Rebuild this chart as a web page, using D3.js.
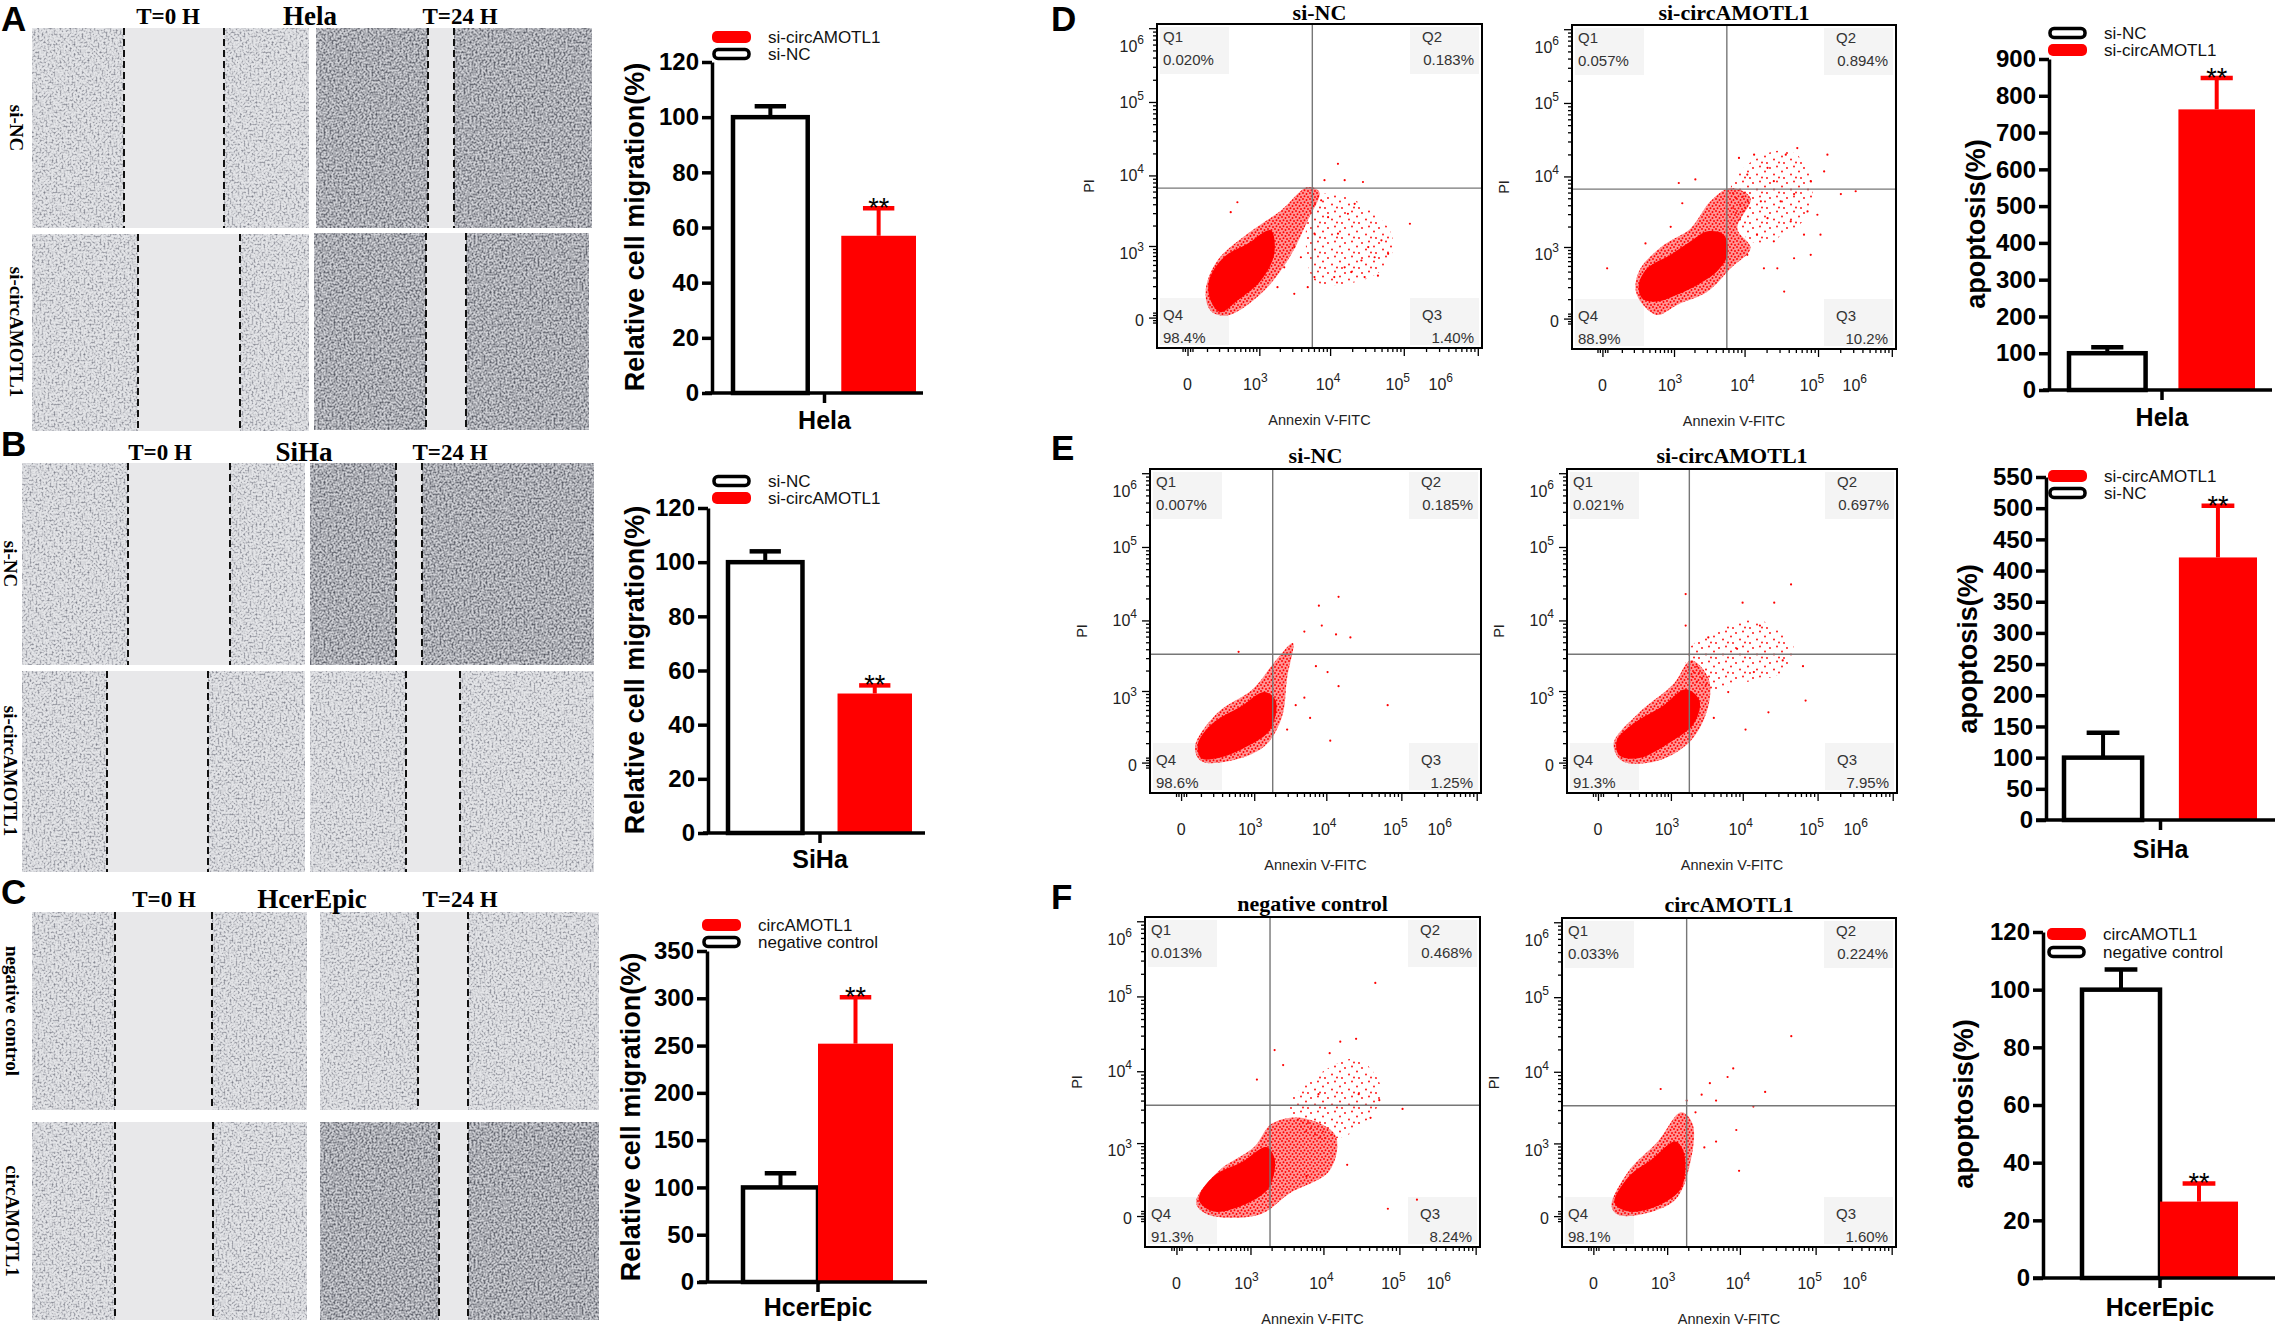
<!DOCTYPE html>
<html>
<head>
<meta charset="utf-8">
<script src="https://cdn.jsdelivr.net/npm/d3@7"></script>
<style>
  body { margin: 0; background: #fff; }
  svg { display: block; font-family: "Liberation Sans", Arial, sans-serif; }
</style>
</head>
<body>
<svg id="fig" width="2280" height="1326"></svg>
<script>
// ---------- bar chart values (A-C migration, D-F apoptosis) ----------
const cellLines = ["Hela", "SiHa", "HcerEpic"];
const groupNames = [["si-NC", "si-circAMOTL1"], ["si-NC", "si-circAMOTL1"], ["negative control", "circAMOTL1"]];
const migrationControl = [100, 100, 100];
const migrationControlSd = [4, 4, 15];
const migrationCirc = [57, 51.5, 252];
const migrationCircSd = [10, 3, 49];
const apoptosisControl = [100, 100, 100];
const apoptosisControlSd = [16, 40, 7];
const apoptosisCirc = [763, 421, 26.5];
const apoptosisCircSd = [85, 83, 6.3];
const migrationTicks = [[0, 20, 40, 60, 80, 100, 120], [0, 20, 40, 60, 80, 100, 120],
                        [0, 50, 100, 150, 200, 250, 300, 350]];
const apoptosisTicks = [[0, 100, 200, 300, 400, 500, 600, 700, 800, 900],
                        [0, 50, 100, 150, 200, 250, 300, 350, 400, 450, 500, 550],
                        [0, 20, 40, 60, 80, 100, 120]];

// ---------- flow cytometry (Annexin V-FITC, PI) ----------
const flowTitles = ["si-NC", "si-circAMOTL1", "si-NC", "si-circAMOTL1", "negative control", "circAMOTL1"];
// Q1, Q2, Q3, Q4
const flowQuadrants = [["0.020%", "0.183%", "1.40%", "98.4%"], ["0.057%", "0.894%", "10.2%", "88.9%"],
                       ["0.007%", "0.185%", "1.25%", "98.6%"], ["0.021%", "0.697%", "7.95%", "91.3%"],
                       ["0.013%", "0.468%", "8.24%", "91.3%"], ["0.033%", "0.224%", "1.60%", "98.1%"]];
const flowGateX = [5700, 5700, 1850, 1850, 1900, 1900];
const flowGateY = [6700, 6700, 3400, 3400, 3450, 3450];
const flowMajors = [0, 1e3, 1e4, 1e5, 1e6];

// outlines of the dense core, the looser halo and the sparse cloud, plus single events
const d1Core = [[126, 84], [114, 262], [252, 668], [655, 1077], [1478, 1705], [1663, 758], [1056, 262], [446, 84], [216, 22]];
const d1Halo = [[91, 159], [184, 592], [655, 1525], [2080, 3280], [4930, 6910], [7120, 5910], [4930, 2370], [2580, 592], [1056, 132], [295, 8], [126, 29]];
const d1Sparse = [[6100, 5020], [21600, 4530], [67800, 1525], [61400, 530], [26700, 262], [6100, 262]];
const d1Dots = [[7550, 4530], [9380, 2630], [12800, 1525], [17500, 2940], [21600, 4050], [26700, 592], [33000, 962], [40300, 668],
                [49800, 1215], [61400, 758], [15800, 456], [11400, 305], [19400, 377], [29500, 305], [44700, 324], [6100, 305],
                [8380, 8600], [12800, 14400], [15800, 8600], [28000, 8130], [121000, 2120], [446, 4260], [340, 3100], [4930, 190],
                [3200, 132], [3960, 668], [6100, 1525], [3200, 962], [1850, 190], [2310, 456]];

const d2Core = [[252, 223], [367, 456], [890, 758], [1760, 1215], [3080, 1705], [5180, 1525], [5800, 758], [4180, 405], [2200, 223], [1110, 132], [540, 84], [295, 105]];
const d2Halo = [[216, 190], [274, 456], [700, 1077], [1760, 1880], [3370, 4530], [6430, 6910], [12100, 5020], [7950, 1880], [12100, 962], [6430, 456], [3080, 159], [1110, 64], [540, 14], [274, 84]];
const d2Sparse = [[6430, 6910], [14800, 17900], [42600, 22100], [79600, 10600], [72000, 2940], [34700, 1525], [12100, 1215]];
const d2Dots = [[8380, 17900], [13500, 19800], [20600, 13100], [36500, 19800], [52300, 24400], [134000, 19800], [10900, 10600],
                [25100, 8600], [79600, 8600], [121000, 11700], [16700, 4530], [31000, 4530], [47300, 5720], [72000, 3280],
                [20600, 2630], [42600, 2370], [98000, 2940], [108000, 1525], [64500, 1525], [79600, 758], [47300, 668],
                [25100, 1215], [14800, 1525], [28000, 456], [34700, 159], [18400, 456], [204000, 5720], [324000, 6250],
                [19, 456], [1180, 8130], [2060, 9100], [1330, 4260], [890, 1980], [340, 1130], [10900, 758]];

const e1Core = [[81, 97], [193, 286], [635, 575], [1400, 962], [2040, 710], [1705, 216], [777, 78], [252, 18], [101, 18]];
const e1Halo = [[64, 78], [252, 456], [950, 1065], [2040, 2790], [3530, 4890], [2940, 1570], [2470, 363], [1400, 78], [410, 6], [101, 6]];
const e1Sparse = [];
const e1Dots = [[5060, 7030], [7950, 15900], [14600, 21000], [8700, 8500], [13500, 6430], [21000, 5840], [7250, 2310], [10400, 1900],
                [14600, 1180], [5060, 790], [11300, 118], [65800, 600], [3855, 600], [2940, 216], [6050, 363], [575, 3680]];

const e2Core = [[93, 118], [237, 286], [740, 575], [1640, 1065], [2570, 710], [2150, 286], [910, 97], [308, 18], [112, 30]];
const e2Halo = [[74, 97], [308, 456], [1110, 1300], [1940, 2790], [3400, 1570], [3400, 575], [1940, 118], [606, 6], [132, 6]];
const e2Sparse = [[1640, 3350], [5800, 8500], [17000, 10100], [48900, 4050], [34300, 1900], [8380, 1300], [2820, 1065]];
const e2Dots = [[9950, 17500], [26400, 17500], [44300, 31000], [17000, 8500], [34300, 2790], [63900, 2310], [69200, 710], [22100, 456],
                [10900, 216], [4050, 363], [1640, 8500], [3400, 5840], [8380, 4050], [14100, 1900], [6360, 962], [1640, 22900]];

const f1Core = [[116, 78], [248, 286], [758, 512], [1680, 870], [2200, 575], [1820, 162], [758, 45], [248, 18]];
const f1Halo = [[97, 61], [316, 363], [1130, 870], [2000, 1900], [4980, 2310], [14400, 1300], [12100, 363], [3460, 118], [1370, 6], [187, 6]];
const f1Sparse = [[3460, 3350], [10100, 10100], [29200, 14500], [59600, 4890], [20600, 1300], [5950, 1300]];
const f1Dots = [[48300, 151000], [27000, 27200], [16700, 24900], [12100, 17500], [2880, 12100], [2200, 19200], [1240, 7730],
                [110000, 3070], [70600, 30], [170000, 78], [29200, 4890], [41800, 2310], [8600, 4890], [20600, 456], [5950, 286], [54500, 4050]];

const f2Core = [[108, 61], [232, 286], [592, 575], [1310, 1065], [1750, 710], [1590, 162], [725, 45], [232, 18]];
const f2Halo = [[88, 45], [232, 363], [725, 1065], [1590, 2790], [2310, 1900], [2100, 456], [1310, 78], [385, 6], [128, 6]];
const f2Sparse = [];
const f2Dots = [[47800, 30100], [8150, 11100], [6850, 8500], [3960, 7000], [4800, 4050], [3060, 4890], [21600, 5330], [15100, 3350],
                [9750, 363], [8950, 1570], [800, 5840], [3330, 870], [4800, 1065], [1900, 4050], [2520, 2790]];

const RED = "#ff0000";
const SANS = '"Liberation Sans", Arial, sans-serif';
const SERIF = '"Liberation Serif", "Times New Roman", serif';

const svg = d3.select("#fig");
const defs = svg.append("defs");

function make_defs() {
    let halo = defs.append("pattern").attr("id", "haloDots")
        .attr("patternUnits", "userSpaceOnUse").attr("width", 7).attr("height", 6);
    halo.append("rect").attr("width", 7).attr("height", 6).attr("fill", "rgba(255,0,0,0.42)");
    [[1, 1], [4.5, 2], [2.5, 4.2], [6, 5]].forEach(p => halo.append("circle")
        .attr("cx", p[0]).attr("cy", p[1]).attr("r", 0.95).attr("fill", RED));

    let sparse = defs.append("pattern").attr("id", "sparseDots")
        .attr("patternUnits", "userSpaceOnUse").attr("width", 17).attr("height", 15);
    [[2, 3], [9, 1.5], [6, 9.5], [14, 6.5], [11, 12.5], [16, 13]].forEach(p => sparse.append("circle")
        .attr("cx", p[0]).attr("cy", p[1]).attr("r", 0.9).attr("fill", RED));

    // grainy texture standing in for the phase-contrast photos
    const tones = {
        light: "0 0 0 0 0.40  0 0 0 0 0.41  0 0 0 0 0.46  2.1 0 0 0 -0.95",
        dark: "0 0 0 0 0.33  0 0 0 0 0.34  0 0 0 0 0.38  2.4 0 0 0 -0.9"
    };
    for (const [tone, matrix] of Object.entries(tones)) {
        let f = defs.append("filter").attr("id", "cells-" + tone)
            .attr("x", 0).attr("y", 0).attr("width", 1).attr("height", 1)
            .attr("color-interpolation-filters", "sRGB");
        f.append("feTurbulence").attr("type", "fractalNoise").attr("baseFrequency", 0.5)
            .attr("numOctaves", 2).attr("seed", tone == "dark" ? 9 : 4).attr("result", "noise");
        f.append("feColorMatrix").attr("in", "noise").attr("type", "matrix")
            .attr("values", matrix).attr("result", "specks");
        f.append("feComposite").attr("in", "specks").attr("in2", "SourceGraphic")
            .attr("operator", "over").attr("result", "mix");
        f.append("feComposite").attr("in", "mix").attr("in2", "SourceGraphic").attr("operator", "in");
    }
}

function panel_letter(letter, x, y) {
    svg.append("text").attr("x", x).attr("y", y).text(letter)
        .attr("font-family", SANS).attr("font-weight", "bold").attr("font-size", 35);
}

// ---------- wound healing panels ----------
function scratch_panel(s, i) {
    for (const [x0, x1, y0, y1, c0, c1, tone] of s.imgs) {
        svg.append("rect").attr("x", x0).attr("y", y0)
            .attr("width", x1 - x0).attr("height", y1 - y0)
            .attr("fill", tone == "dark" ? "#cfd0d5" : "#e3e4e7")
            .attr("filter", `url(#cells-${tone})`);
        svg.append("rect").attr("x", c0).attr("y", y0)
            .attr("width", c1 - c0).attr("height", y1 - y0)
            .attr("fill", "#e8e8ea");
        for (const cx of [c0, c1]) {
            svg.append("line").attr("x1", cx).attr("x2", cx).attr("y1", y0).attr("y2", y1)
                .attr("stroke", "#111").attr("stroke-width", 2).attr("stroke-dasharray", "7,4");
        }
    }
    const heads = ["T=0 H", cellLines[i], "T=24 H"];
    heads.forEach((h, j) => svg.append("text")
        .attr("x", s.heads[j]).attr("y", s.headY + (j == 1 ? 1 : 0))
        .attr("text-anchor", "middle").attr("font-family", SERIF).attr("font-weight", "bold")
        .attr("font-size", j == 1 ? 27 : 23).text(h));
    groupNames[i].forEach((n, j) => svg.append("text")
        .attr("transform", `translate(${s.rowX},${s.rowY[j]}) rotate(90)`)
        .attr("text-anchor", "middle").attr("dominant-baseline", "central")
        .attr("font-family", SERIF).attr("font-weight", "bold").attr("font-size", 19).text(n));
    panel_letter(s.letter, 1, s.letterY);
}

// ---------- bar charts ----------
function bar_chart(c, i, values, sds, ticks, ylabel) {
    const y = d3.scaleLinear().domain([0, d3.max(ticks)]).range([c.y0, c.y1]);
    const x = d3.scaleBand().domain(groupNames[i]).range(c.bands)
        .paddingInner(c.inner).paddingOuter(0);
    const g = svg.append("g");

    groupNames[i].forEach((name, k) => {
        const v = values[k][i], e = sds[k][i];
        const col = k == 0 ? "#000" : RED;
        const bx = x(name), bw = x.bandwidth(), cx = bx + bw / 2;
        g.append("line").attr("x1", cx).attr("x2", cx)
            .attr("y1", y(v)).attr("y2", y(v + e))
            .attr("stroke", col).attr("stroke-width", 4);
        g.append("line").attr("x1", cx - bw * 0.21).attr("x2", cx + bw * 0.21)
            .attr("y1", y(v + e)).attr("y2", y(v + e))
            .attr("stroke", col).attr("stroke-width", 4.5);
        if (k == 0) {
            g.append("rect").attr("x", bx).attr("y", y(v))
                .attr("width", bw).attr("height", y(0) - y(v))
                .attr("fill", "#fff").attr("stroke", "#000").attr("stroke-width", 4.5);
        } else {
            g.append("rect").attr("x", bx).attr("y", y(v))
                .attr("width", bw).attr("height", y(0) - y(v)).attr("fill", RED);
            g.append("text").attr("x", cx).attr("y", y(v + e) + 9)
                .attr("text-anchor", "middle").attr("font-size", 27).text("**");
        }
    });

    let yAxis = g.append("g").attr("transform", `translate(${c.ax},0)`)
        .call(d3.axisLeft(y).tickValues(ticks).tickSize(10).tickSizeOuter(0).tickPadding(3));
    yAxis.attr("font-family", SANS).attr("font-size", 24).attr("font-weight", "bold");
    yAxis.select(".domain").attr("stroke-width", 3.5);
    yAxis.selectAll(".tick line").attr("stroke-width", 3.5);
    yAxis.selectAll(".tick text").attr("fill", "#000");

    g.append("line").attr("x1", c.xStart).attr("x2", c.xEnd)
        .attr("y1", c.y0).attr("y2", c.y0).attr("stroke", "#000").attr("stroke-width", 3.5);
    const cat = d3.scaleBand().domain([cellLines[i]]).range(c.bands);
    let xAxis = g.append("g").attr("transform", `translate(0,${c.y0})`)
        .call(d3.axisBottom(cat).tickSize(10).tickSizeOuter(0).tickPadding(c.catPad));
    xAxis.select(".domain").remove();
    xAxis.attr("font-family", SANS).attr("font-size", 25).attr("font-weight", "bold");
    xAxis.selectAll(".tick line").attr("stroke-width", 3.5);
    xAxis.selectAll(".tick text").attr("fill", "#000");

    g.append("text").attr("transform", `translate(${c.labX},${c.labY}) rotate(-90)`)
        .attr("text-anchor", "middle").attr("font-weight", "bold").attr("font-size", 27).text(ylabel);

    c.legOrder.forEach((k, j) => {
        const ly = c.legY[j];
        if (k == 0) {
            g.append("rect").attr("x", c.legX + 2).attr("y", ly - 4.5).attr("width", 35).attr("height", 9)
                .attr("rx", 4).attr("fill", "#fff").attr("stroke", "#000").attr("stroke-width", 3.5);
        } else {
            g.append("rect").attr("x", c.legX).attr("y", ly - 6).attr("width", 39).attr("height", 12)
                .attr("rx", 5).attr("fill", RED);
        }
        g.append("text").attr("x", c.legX + 56).attr("y", ly).attr("dominant-baseline", "central")
            .attr("font-size", 17).attr("fill", "#111").text(groupNames[i][k]);
    });
}

// ---------- flow cytometry dot plots ----------
function sup_label(sel, v) {
    if (v == 0) { sel.text("0"); return; }
    sel.append("tspan").text("10");
    sel.append("tspan").attr("dy", -8).attr("font-size", 12).text(Math.round(Math.log10(v)));
}

function flow_plot(p, k) {
    const [l, t, r, b] = p.frame;
    const x = d3.scaleSymlog().constant(120).domain([-190, 1.14e6]).range([l, r]);
    const y = d3.scaleSymlog().constant(120).domain([-190, 1.14e6]).range([b, t]);
    svg.append("clipPath").attr("id", "fc" + k).append("rect")
        .attr("x", l).attr("y", t).attr("width", r - l).attr("height", b - t);
    const g = svg.append("g").attr("clip-path", `url(#fc${k})`);

    const boxes = [[l + 3, t + 3], [r - 72, t + 3], [r - 72, b - 50], [l + 3, b - 50]];
    g.selectAll(".qbox").data(boxes).enter().append("rect")
        .attr("x", d => d[0]).attr("y", d => d[1]).attr("width", 69).attr("height", 47)
        .attr("fill", "#f4f4f4");

    const blob = d3.line().x(d => x(d[0])).y(d => y(d[1]))
        .curve(d3.curveCatmullRomClosed.alpha(0.5));
    if (p.sparse.length) g.append("path").attr("d", blob(p.sparse)).attr("fill", "url(#sparseDots)");
    g.append("path").attr("d", blob(p.halo)).attr("fill", "url(#haloDots)");
    g.append("path").attr("d", blob(p.core)).attr("fill", RED);
    g.selectAll(".ev").data(p.dots).enter().append("circle")
        .attr("cx", d => x(d[0])).attr("cy", d => y(d[1])).attr("r", 1.1).attr("fill", RED);

    g.append("line").attr("x1", x(p.gx)).attr("x2", x(p.gx)).attr("y1", t).attr("y2", b)
        .attr("stroke", "#777").attr("stroke-width", 1.4);
    g.append("line").attr("x1", l).attr("x2", r).attr("y1", y(p.gy)).attr("y2", y(p.gy))
        .attr("stroke", "#777").attr("stroke-width", 1.4);

    const qpos = [[l + 6, t + 18], [r - 8, t + 18], [r - 8, b - 28], [l + 6, b - 28]];
    p.quads.forEach((q, j) => {
        const [qx, qy] = qpos[j];
        const right = (j == 1 || j == 2);
        g.append("text").attr("x", right ? qx - 52 : qx).attr("y", qy)
            .attr("font-size", 15).attr("fill", "#333").text("Q" + (j + 1));
        g.append("text").attr("x", qx).attr("y", qy + 23).attr("text-anchor", right ? "end" : "start")
            .attr("font-size", 15).attr("fill", "#333").text(q);
    });

    svg.append("rect").attr("x", l).attr("y", t).attr("width", r - l).attr("height", b - t)
        .attr("fill", "none").attr("stroke", "#000").attr("stroke-width", 2);

    const minors = [-20, -10, 10, 20].concat(
        d3.range(100, 1000, 100), d3.range(2e3, 1e4, 1e3), d3.range(2e4, 1e5, 1e4), d3.range(2e5, 1e6, 1e5));
    [[minors, 4], [flowMajors, 8]].forEach(([vals, len]) => {
        svg.append("g").attr("transform", `translate(0,${b})`)
            .call(d3.axisBottom(x).tickValues(vals).tickSize(len).tickSizeOuter(0).tickFormat(""))
            .call(a => a.select(".domain").remove())
            .selectAll("line").attr("stroke-width", 1.3);
        svg.append("g").attr("transform", `translate(${l},0)`)
            .call(d3.axisLeft(y).tickValues(vals).tickSize(len).tickSizeOuter(0).tickFormat(""))
            .call(a => a.select(".domain").remove())
            .selectAll("line").attr("stroke-width", 1.3);
    });

    const xNudge = [0, -4, -2, -6, -37], yNudge = [2, 7, 0, 0, 18];
    flowMajors.forEach((v, j) => {
        svg.append("text").attr("x", x(v) + xNudge[j]).attr("y", b + 42)
            .attr("text-anchor", "middle").attr("font-size", 16).attr("fill", "#222")
            .call(sup_label, v);
        svg.append("text").attr("x", l - 13).attr("y", y(v) + yNudge[j] + 6)
            .attr("text-anchor", "end").attr("font-size", 16).attr("fill", "#222")
            .call(sup_label, v);
    });

    svg.append("text").attr("transform", `translate(${l - 63},${(t + b) / 2}) rotate(-90)`)
        .attr("text-anchor", "middle").attr("font-size", 14.5).attr("fill", "#222").text("PI");
    svg.append("text").attr("x", (l + r) / 2).attr("y", b + 77)
        .attr("text-anchor", "middle").attr("font-size", 14.5).attr("fill", "#222").text("Annexin V-FITC");
    svg.append("text").attr("x", (l + r) / 2).attr("y", Math.max(t - 6, 20))
        .attr("text-anchor", "middle").attr("font-family", SERIF).attr("font-weight", "bold")
        .attr("font-size", 22).text(p.title);
}

// ---------- layout ----------
const scratchLayouts = [
    {letter: "A", letterY: 31, headY: 24, heads: [168, 310, 460], rowX: 16, rowY: [128, 332],
     imgs: [[32, 309, 28, 228, 124, 224, "light"], [316, 592, 28, 228, 428, 454, "dark"],
            [32, 309, 234, 431, 138, 240, "light"], [314, 589, 233, 430, 426, 466, "dark"]]},
    {letter: "B", letterY: 456, headY: 460, heads: [160, 304, 450], rowX: 10, rowY: [564, 771],
     imgs: [[22, 305, 463, 665, 128, 230, "light"], [310, 594, 463, 665, 396, 422, "dark"],
            [22, 305, 671, 872, 107, 208, "light"], [310, 594, 671, 872, 406, 460, "light"]]},
    {letter: "C", letterY: 904, headY: 907, heads: [164, 312, 460], rowX: 12, rowY: [1011, 1221],
     imgs: [[32, 307, 912, 1110, 115, 212, "light"], [320, 599, 912, 1110, 418, 468, "light"],
            [32, 307, 1122, 1320, 115, 213, "light"], [320, 599, 1122, 1320, 439, 468, "dark"]]}
];

const migrationLayouts = [
    {ax: 712, y0: 393, y1: 62, xStart: 705, xEnd: 923, bands: [733, 916], inner: 0.31, labX: 644, labY: 227,
     catPad: 8, legX: 712, legY: [37, 54], legOrder: [1, 0]},
    {ax: 708, y0: 833, y1: 508, xStart: 703, xEnd: 925, bands: [728, 912], inner: 0.32, labX: 644, labY: 670,
     catPad: 7, legX: 712, legY: [481, 498], legOrder: [0, 1]},
    {ax: 707, y0: 1282, y1: 951, xStart: 699, xEnd: 927, bands: [743, 893], inner: 0, labX: 640, labY: 1117,
     catPad: 6, legX: 702, legY: [925, 942], legOrder: [1, 0]}
];
const apoptosisLayouts = [
    {ax: 2049, y0: 390, y1: 59, xStart: 2043, xEnd: 2272, bands: [2069, 2255], inner: 0.30, labX: 1985, labY: 224,
     catPad: 8, legX: 2048, legY: [33, 50], legOrder: [0, 1]},
    {ax: 2046, y0: 820, y1: 477, xStart: 2036, xEnd: 2275, bands: [2064, 2257], inner: 0.32, labX: 1977, labY: 649,
     catPad: 10, legX: 2048, legY: [476, 493], legOrder: [1, 0]},
    {ax: 2043, y0: 1278, y1: 932, xStart: 2033, xEnd: 2275, bands: [2082, 2238], inner: 0, labX: 1973, labY: 1104,
     catPad: 10, legX: 2047, legY: [934, 952], legOrder: [1, 0]}
];

const flowFrames = [[1157, 24, 1482, 348], [1572, 25, 1896, 349], [1150, 469, 1481, 793],
                    [1567, 469, 1897, 793], [1145, 917, 1480, 1247], [1562, 918, 1896, 1247]];
const flowCores = [d1Core, d2Core, e1Core, e2Core, f1Core, f2Core];
const flowHalos = [d1Halo, d2Halo, e1Halo, e2Halo, f1Halo, f2Halo];
const flowSparse = [d1Sparse, d2Sparse, e1Sparse, e2Sparse, f1Sparse, f2Sparse];
const flowDots = [d1Dots, d2Dots, e1Dots, e2Dots, f1Dots, f2Dots];

make_defs();
scratchLayouts.forEach(scratch_panel);
migrationLayouts.forEach((c, i) => bar_chart(c, i,
    [migrationControl, migrationCirc], [migrationControlSd, migrationCircSd], migrationTicks[i],
    "Relative cell migration(%)"));
apoptosisLayouts.forEach((c, i) => bar_chart(c, i,
    [apoptosisControl, apoptosisCirc], [apoptosisControlSd, apoptosisCircSd], apoptosisTicks[i],
    "apoptosis(%)"));
flowTitles.forEach((title, k) => flow_plot({
    title: title, frame: flowFrames[k], core: flowCores[k], halo: flowHalos[k], sparse: flowSparse[k],
    dots: flowDots[k], gx: flowGateX[k], gy: flowGateY[k], quads: flowQuadrants[k]
}, k));
panel_letter("D", 1051, 31);
panel_letter("E", 1051, 460);
panel_letter("F", 1051, 909);
</script>
</body>
</html>
